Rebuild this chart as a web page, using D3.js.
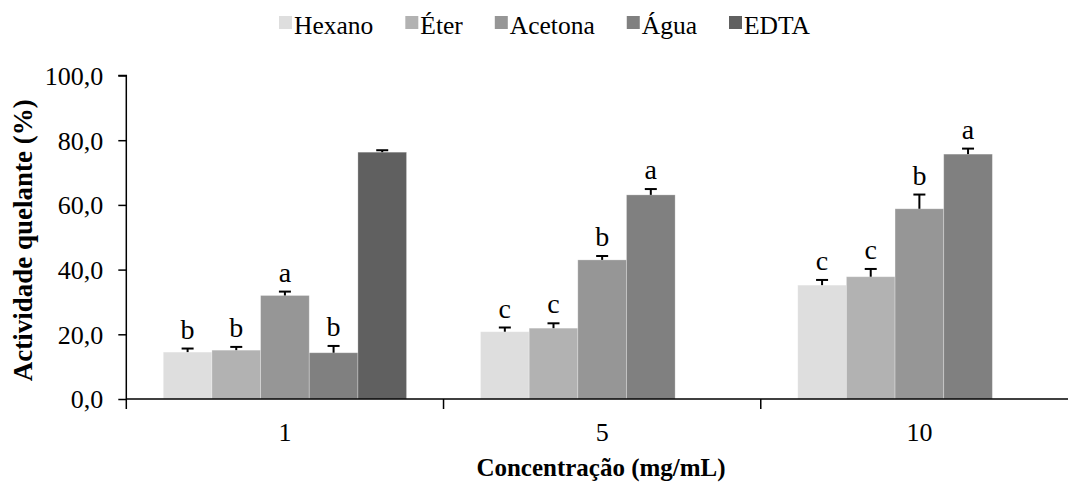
<!DOCTYPE html>
<html>
<head>
<meta charset="utf-8">
<script src="https://cdn.jsdelivr.net/npm/d3@7"></script>
<style>
  html, body { margin: 0; padding: 0; background: #fff; }
  svg { display: block; }
  text { font-family: "Liberation Serif", "Times New Roman", serif; fill: #000; }
</style>
</head>
<body>
<svg id="chart" width="1068" height="483"></svg>
<script>
// ---- Data ----
const categories = ["1", "5", "10"];
const seriesNames = ["Hexano", "Éter", "Acetona", "Água", "EDTA"];
const seriesColors = ["#dedede", "#b2b2b2", "#969696", "#808080", "#606060"];

const hexano  = [14.5, 20.8, 35.2];
const eter    = [15.1, 21.9, 37.8];
const acetona = [32.0, 43.0, 58.8];
const agua    = [14.3, 63.1, 75.7];
const edta    = [76.3, null, null];

const hexanoErr  = [1.1, 1.3, 1.6];
const eterErr    = [1.0, 1.5, 2.4];
const acetonaErr = [1.2, 1.2, 4.4];
const aguaErr    = [2.1, 1.8, 1.7];
const edtaErr    = [0.6, null, null];

const hexanoLetters  = ["b", "c", "c"];
const eterLetters    = ["b", "c", "c"];
const acetonaLetters = ["a", "b", "b"];
const aguaLetters    = ["b", "a", "a"];
const edtaLetters    = ["", "", ""];

const yTicks = [0, 20, 40, 60, 80, 100];
const yTitle = "Actividade quelante (%)";
const xTitle = "Concentração (mg/mL)";

// ---- Build records ----
const values  = [hexano, eter, acetona, agua, edta];
const errs    = [hexanoErr, eterErr, acetonaErr, aguaErr, edtaErr];
const letters = [hexanoLetters, eterLetters, acetonaLetters, aguaLetters, edtaLetters];
const records = [];
seriesNames.forEach((s, si) => {
  categories.forEach((c, ci) => {
    if (values[si][ci] != null) {
      records.push({ series: s, si, cat: c, value: values[si][ci], err: errs[si][ci], letter: letters[si][ci] });
    }
  });
});

// ---- Layout ----
const svg = d3.select("#chart");
const pLeft = 126.3, pRight = 1078, pTop = 75.5, pBottom = 399;

const x0 = d3.scaleBand().domain(categories).range([pLeft, pRight]).paddingInner(0).paddingOuter(0);
const x1 = d3.scaleBand().domain(seriesNames).range([0, x0.bandwidth()]).paddingInner(0).paddingOuter(0.76);
const y = d3.scaleLinear().domain([0, 100]).range([pBottom, pTop]);
const color = d3.scaleOrdinal().domain(seriesNames).range(seriesColors);
const fmt = d => d3.format(".1f")(d).replace(".", ",");

// Bars
svg.append("g").selectAll("rect").data(records).join("rect")
  .attr("x", d => x0(d.cat) + x1(d.series))
  .attr("y", d => y(d.value))
  .attr("width", x1.bandwidth())
  .attr("height", d => y(0) - y(d.value))
  .attr("fill", d => color(d.series))
  .attr("stroke", "#ffffff").attr("stroke-opacity", 0.35).attr("stroke-width", 0.8);

// Error bars (upper only)
const eb = svg.append("g").attr("stroke", "#000").attr("stroke-width", 2);
records.filter(d => d.err != null).forEach(d => {
  const cx = x0(d.cat) + x1(d.series) + x1.bandwidth() / 2;
  eb.append("line").attr("x1", cx).attr("x2", cx).attr("y1", y(d.value)).attr("y2", y(d.value + d.err));
  eb.append("line").attr("x1", cx - 6).attr("x2", cx + 6).attr("y1", y(d.value + d.err)).attr("y2", y(d.value + d.err));
});

// Significance letters
svg.append("g").selectAll("text").data(records.filter(d => d.letter)).join("text")
  .attr("x", d => x0(d.cat) + x1(d.series) + x1.bandwidth() / 2)
  .attr("y", d => y(d.value + d.err) - 10)
  .attr("text-anchor", "middle")
  .style("font-size", "28px")
  .text(d => d.letter);

// Y axis
const yAxis = svg.append("g").attr("transform", `translate(${pLeft},0)`)
  .call(d3.axisLeft(y).tickValues(yTicks).tickFormat(fmt).tickSize(8).tickPadding(15));
yAxis.select(".domain").attr("stroke", "#000").attr("stroke-width", 1.5).attr("d", `M0,${pBottom}V${pTop}H-8`);
yAxis.selectAll(".tick line").attr("stroke", "#000").attr("stroke-width", 1.5);
yAxis.selectAll(".tick text").style("font-size", "26px").style("font-family", "'Liberation Serif', serif").attr("dy", "0.34em");

// X axis
const xAxis = svg.append("g").attr("transform", `translate(0,${pBottom})`)
  .call(d3.axisBottom(x0).tickSize(0).tickPadding(24));
xAxis.select(".domain").attr("stroke", "#000").attr("stroke-width", 1.5).attr("d", `M${pLeft},0H${pRight}`);
xAxis.selectAll(".tick text").style("font-size", "26px").style("font-family", "'Liberation Serif', serif");
// Category boundary ticks
const bounds = categories.map(c => x0(c)).concat([x0(categories[categories.length - 1]) + x0.bandwidth()]);
xAxis.append("g").selectAll("line").data(bounds).join("line")
  .attr("x1", d => d).attr("x2", d => d).attr("y1", 0).attr("y2", 10)
  .attr("stroke", "#000").attr("stroke-width", 1.5);

// Axis titles
svg.append("text")
  .attr("transform", `translate(32,${(pTop + pBottom) / 2 + 3}) rotate(-90)`)
  .attr("text-anchor", "middle")
  .style("font-size", "27px").style("font-weight", "bold")
  .text(yTitle);
svg.append("text")
  .attr("x", 601).attr("y", 476)
  .attr("text-anchor", "middle")
  .style("font-size", "25px").style("font-weight", "bold")
  .text(xTitle);

// Legend
const legend = svg.append("g");
let lx = 279;
seriesNames.forEach((s, i) => {
  legend.append("rect").attr("x", lx).attr("y", 16).attr("width", 13).attr("height", 13).attr("fill", seriesColors[i]);
  const t = legend.append("text").attr("x", lx + 15).attr("y", 34).style("font-size", "25.5px").text(s);
  lx += 15 + t.node().getComputedTextLength() + 32;
});
</script>
</body>
</html>
